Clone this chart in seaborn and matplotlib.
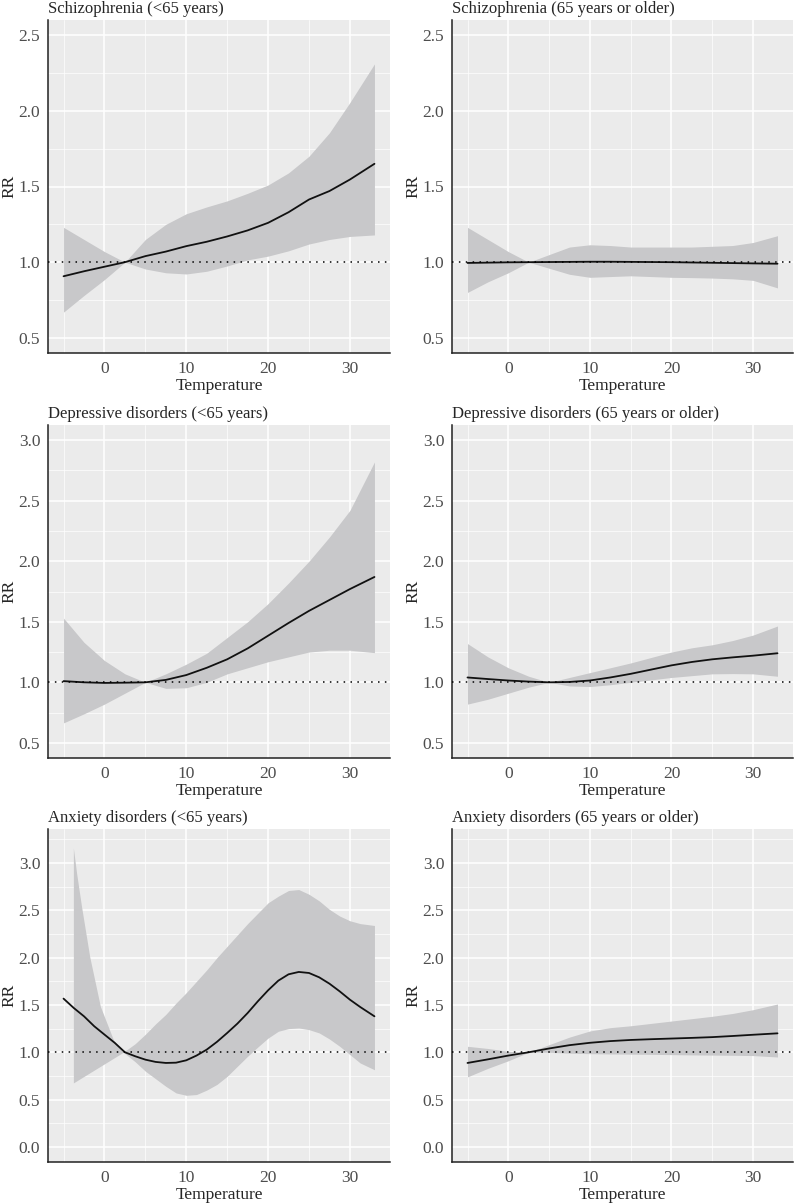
import numpy as np
import pandas as pd
import seaborn as sns
import matplotlib.pyplot as plt
from matplotlib.ticker import MultipleLocator

sns.set_style("white")
plt.rcParams["font.family"] = ["Liberation Serif", "DejaVu Serif"]

# ---- data (temperature grid, RR and 95% CI) ----
temp = [-5, -2.5, 0, 2.5, 5, 7.5, 10, 12.5, 15, 17.5, 20, 22.5, 25, 27.5, 30, 33]

schz_young_rr = [0.907, 0.94, 0.97, 1.0, 1.04, 1.07, 1.106, 1.135, 1.17, 1.21, 1.26, 1.33, 1.414, 1.47, 1.546, 1.65]
schz_young_hi = [1.23, 1.15, 1.07, 1.0, 1.15, 1.25, 1.32, 1.365, 1.405, 1.455, 1.51, 1.59, 1.70, 1.855, 2.055, 2.31]
schz_young_lo = [0.67, 0.78, 0.885, 1.0, 0.955, 0.93, 0.922, 0.94, 0.975, 1.015, 1.04, 1.075, 1.12, 1.15, 1.17, 1.18]

schz_old_rr = [0.995, 0.997, 0.999, 1.0, 1.001, 1.002, 1.003, 1.003, 1.002, 1.001, 1.0, 0.998, 0.996, 0.994, 0.992, 0.99]
schz_old_hi = [1.23, 1.15, 1.07, 1.0, 1.05, 1.10, 1.115, 1.11, 1.10, 1.10, 1.10, 1.10, 1.105, 1.11, 1.13, 1.175]
schz_old_lo = [0.80, 0.87, 0.93, 1.0, 0.96, 0.92, 0.90, 0.905, 0.91, 0.905, 0.90, 0.898, 0.895, 0.89, 0.88, 0.83]

dep_young_rr = [1.01, 1.0, 0.995, 0.997, 1.0, 1.02, 1.06, 1.12, 1.19, 1.28, 1.385, 1.49, 1.59, 1.68, 1.77, 1.87]
dep_young_hi = [1.53, 1.33, 1.18, 1.07, 1.0, 1.07, 1.15, 1.24, 1.37, 1.50, 1.65, 1.82, 2.0, 2.2, 2.42, 2.82]
dep_young_lo = [0.665, 0.74, 0.82, 0.91, 1.0, 0.95, 0.955, 1.0, 1.07, 1.12, 1.17, 1.21, 1.25, 1.265, 1.265, 1.245]

dep_old_rr = [1.04, 1.027, 1.015, 1.006, 1.0, 1.003, 1.015, 1.04, 1.07, 1.105, 1.14, 1.168, 1.19, 1.206, 1.22, 1.24]
dep_old_hi = [1.32, 1.21, 1.12, 1.05, 1.0, 1.04, 1.08, 1.12, 1.16, 1.205, 1.25, 1.285, 1.31, 1.345, 1.39, 1.465]
dep_old_lo = [0.82, 0.86, 0.91, 0.96, 1.0, 0.97, 0.965, 0.98, 1.0, 1.02, 1.04, 1.055, 1.07, 1.072, 1.07, 1.05]

anx_young_temp = [-5, -3.75, -2.5, -1.25, 0, 1.25, 2.5, 3.75, 5, 6.25, 7.5, 8.75, 10, 11.25, 12.5, 13.75,
                  15, 16.25, 17.5, 18.75, 20, 21.25, 22.5, 23.75, 25, 26.25, 27.5, 28.75, 30, 31.25, 33]
anx_young_rr = [1.567, 1.468, 1.38, 1.275, 1.187, 1.10, 1.0, 0.958, 0.922, 0.898, 0.887, 0.89, 0.915, 0.965,
                1.028, 1.11, 1.204, 1.303, 1.415, 1.539, 1.655, 1.757, 1.824, 1.849, 1.838, 1.792, 1.725,
                1.644, 1.556, 1.479, 1.38]
anx_young_ci_temp = [-3.8, -3.4, -2.8, -1.8, -0.5, 1.1, 2.3, 3.75, 5, 6.25, 7.5, 8.75, 10, 11.25, 12.5,
                     13.75, 15, 16.25, 17.5, 18.75, 20, 21.25, 22.5, 23.75, 25, 26.25, 27.5, 28.75, 30, 31.25, 33]
anx_young_hi = [3.16, 2.89, 2.54, 2.01, 1.485, 1.13, 1.0, 1.09, 1.19, 1.30, 1.40, 1.52, 1.63, 1.75, 1.87,
                2.0, 2.12, 2.24, 2.36, 2.47, 2.58, 2.65, 2.71, 2.72, 2.67, 2.6, 2.51, 2.44, 2.39, 2.36, 2.34]
anx_young_lo = [0.676, 0.697, 0.729, 0.782, 0.851, 0.936, 1.0, 0.9, 0.80, 0.72, 0.64, 0.57, 0.545, 0.553, 0.60,
                0.66, 0.746, 0.852, 0.958, 1.056, 1.15, 1.222, 1.25, 1.257, 1.239, 1.204, 1.14, 1.063, 0.975,
                0.887, 0.815]

anx_old_rr = [0.887, 0.925, 0.965, 1.0, 1.04, 1.075, 1.1, 1.118, 1.13, 1.138, 1.145, 1.152, 1.16, 1.172, 1.185, 1.2]
anx_old_hi = [1.063, 1.04, 1.01, 1.0, 1.08, 1.16, 1.225, 1.26, 1.28, 1.305, 1.33, 1.355, 1.38, 1.41, 1.45, 1.51]
anx_old_lo = [0.74, 0.83, 0.91, 1.0, 1.0, 0.99, 0.985, 0.982, 0.98, 0.978, 0.975, 0.972, 0.97, 0.968, 0.965, 0.95]

titles = ["Schizophrenia (<65 years)", "Schizophrenia (65 years or older)",
          "Depressive disorders (<65 years)", "Depressive disorders (65 years or older)",
          "Anxiety disorders (<65 years)", "Anxiety disorders (65 years or older)"]

ticks_25 = [0.5, 1.0, 1.5, 2.0, 2.5]
ticks_30 = [0.5, 1.0, 1.5, 2.0, 2.5, 3.0]
ticks_0_30 = [0.0, 0.5, 1.0, 1.5, 2.0, 2.5, 3.0]

panels = [
    (temp, schz_young_rr, temp, schz_young_hi, schz_young_lo, (0.4, 2.6), ticks_25),
    (temp, schz_old_rr, temp, schz_old_hi, schz_old_lo, (0.4, 2.6), ticks_25),
    (temp, dep_young_rr, temp, dep_young_hi, dep_young_lo, (0.375, 3.125), ticks_30),
    (temp, dep_old_rr, temp, dep_old_hi, dep_old_lo, (0.375, 3.125), ticks_30),
    (anx_young_temp, anx_young_rr, anx_young_ci_temp, anx_young_hi, anx_young_lo, (-0.16, 3.36), ticks_0_30),
    (temp, anx_old_rr, temp, anx_old_hi, anx_old_lo, (-0.16, 3.36), ticks_0_30),
]

W, H = 795, 1203
fig = plt.figure(figsize=(W / 100, H / 100), dpi=100)

cols = [(48, 390), (452, 793)]
rows = [(20, 353), (425, 758), (829, 1162)]

for i, (x, rr, cx, hi, lo, ylim, yticks) in enumerate(panels):
    (x0, x1), (y0, y1) = cols[i % 2], rows[i // 2]
    ax = fig.add_axes([x0 / W, 1 - y1 / H, (x1 - x0) / W, (y1 - y0) / H])
    ax.set_facecolor("#ebebeb")

    df = pd.DataFrame({"Temperature": x, "RR": rr})
    ci = pd.DataFrame({"t": cx, "hi": hi, "lo": lo})

    ax.fill_between(ci.t, ci.lo, ci.hi, color="#c8c8ca", lw=0, zorder=2)
    sns.lineplot(data=df, x="Temperature", y="RR", ax=ax, color="#111111", lw=1.3, zorder=3)
    ax.axhline(1.0, color="black", lw=1.1, ls=(0, (1, 3.5)), zorder=4)

    ax.set_xlim(-6.9, 34.9)
    ax.set_ylim(*ylim)
    ax.set_xticks([0, 10, 20, 30])
    ax.set_yticks(yticks)
    ax.set_yticklabels([f"{v:.1f}" for v in yticks])
    ax.xaxis.set_minor_locator(MultipleLocator(5))
    ax.yaxis.set_minor_locator(MultipleLocator(0.25))
    ax.grid(which="major", color="white", lw=1.1, zorder=0)
    ax.grid(which="minor", color="white", lw=0.5, zorder=0)
    ax.set_axisbelow(True)

    for s in ["top", "right"]:
        ax.spines[s].set_visible(False)
    for s in ["left", "bottom"]:
        ax.spines[s].set_color("#222222")
        ax.spines[s].set_linewidth(1.1)

    ax.tick_params(which="major", length=3.5, width=0.8, color="#333333",
                   labelsize=12.5, labelcolor="#4d4d4d", pad=2)
    ax.tick_params(which="minor", length=0)
    ax.set_xlabel("Temperature", fontsize=12.5, labelpad=1)
    ax.set_ylabel("RR", fontsize=12.5)
    ax.yaxis.set_label_coords(-31 / (x1 - x0), 0.5)
    ax.set_title(titles[i], loc="left", fontsize=12, pad=5)

fig.savefig("out.png", dpi=100)
